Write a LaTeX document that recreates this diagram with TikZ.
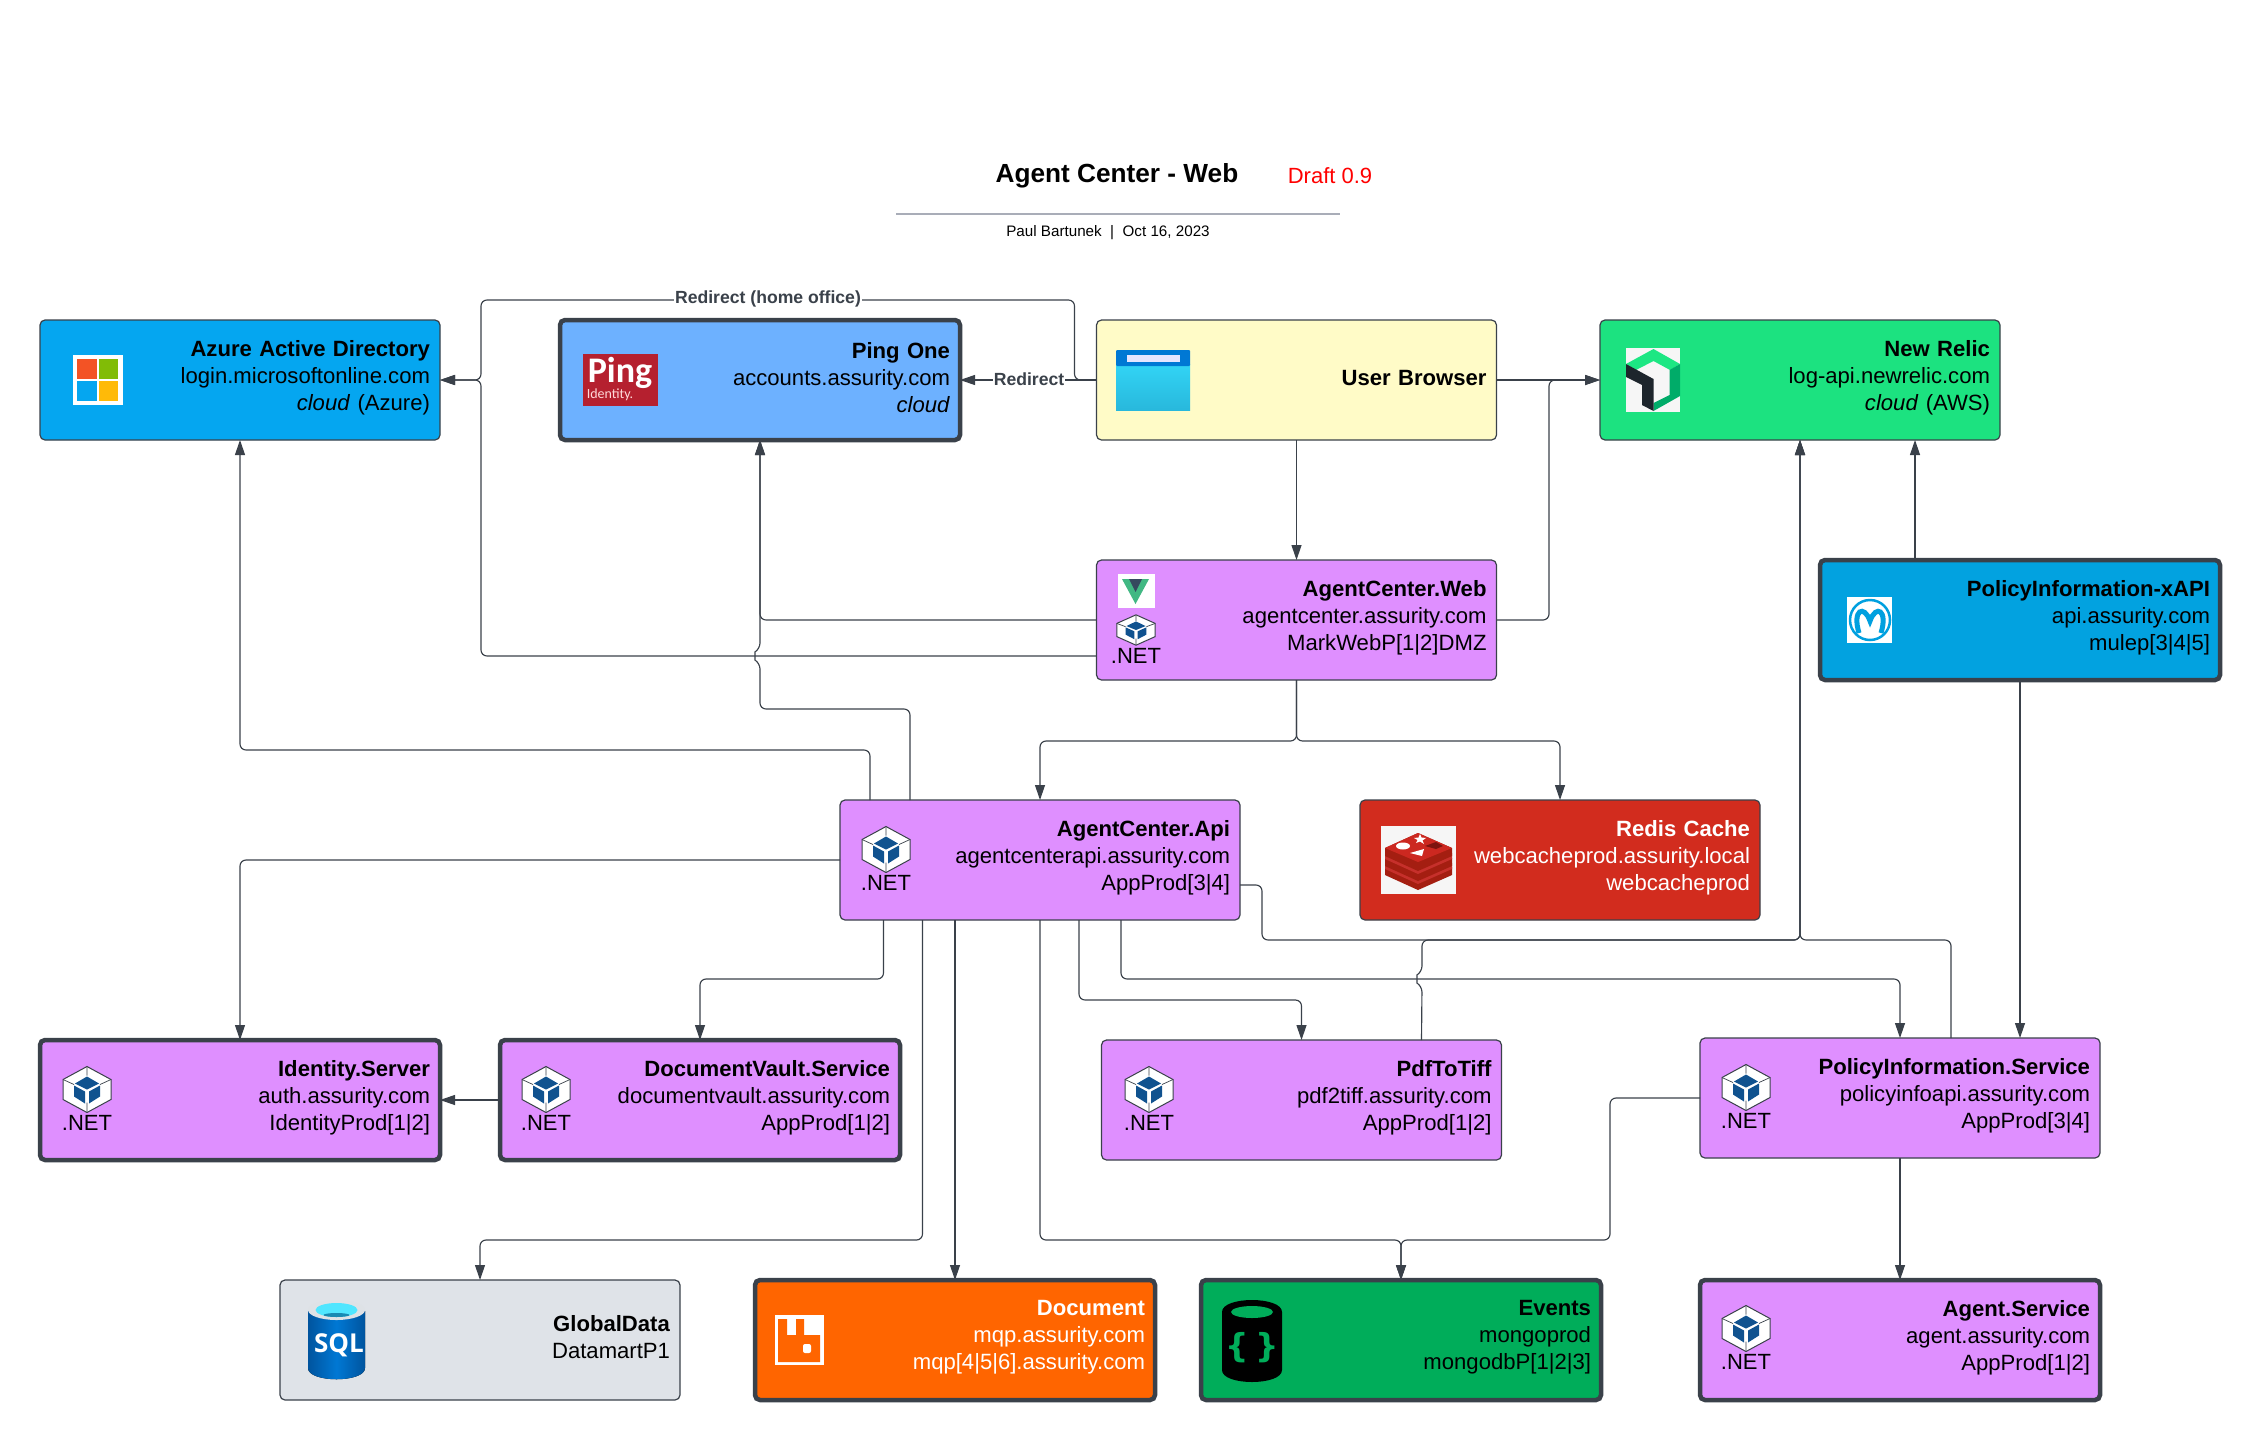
\documentclass[tikz,border=0pt]{standalone}
\usepackage{fontspec}
\setmainfont{Liberation Sans}
\newfontfamily\logofont{Open Sans}
\newfontfamily\pingfont{Carlito}
\newfontfamily\bracefont{DejaVu Sans}
\usetikzlibrary{arrows.meta}
\definecolor{linegrey}{HTML}{3A414A}
\definecolor{rulegrey}{HTML}{A9ADB8}
\definecolor{purplebox}{HTML}{DF8FFF}
\definecolor{cubeblue}{HTML}{10528F}
\tikzset{
  box/.style={draw=linegrey, line width=1.2pt, rounded corners=5pt, outer sep=0pt, minimum width=400pt, minimum height=120pt, text width=380pt, inner xsep=10pt, align=right, font=\fontsize{22.1}{27}\selectfont, execute at end node={\par\vspace{5pt}}},
  heavybox/.style={box, line width=4.5pt},
  flow/.style={->, >={Triangle[length=15pt,width=10pt]}, draw=linegrey, line width=1.15pt, rounded corners=6pt},
  linklabel/.style={fill=white, inner sep=1pt, text=linegrey, font=\fontsize{17.6}{20}\selectfont\bfseries},
  netlabel/.style={inner sep=0pt, font=\fontsize{22}{27}\selectfont},
  netcube/.pic={
    \fill[white, draw=linegrey, line width=1pt] (0,-23) -- (24,-10) -- (24,10) -- (0,23) -- (-24,10) -- (-24,-10) -- cycle;
    \draw[linegrey, line width=.7pt] (0,-23) -- (0,-14) (24,-10) -- (13,-5) (-24,-10) -- (-13,-5) (0,23) -- (0,13);
    \fill[cubeblue] (0,-13) -- (12,-6) -- (0,0) -- (-12,-6) -- cycle;
    \fill[cubeblue] (-13,-4) -- (-2,2) -- (-2,14) -- (-13,7) -- cycle;
    \fill[cubeblue] (13,-4) -- (2,2) -- (2,14) -- (13,7) -- cycle;
  }
}
\begin{document}
\begin{tikzpicture}[x=1pt, y=-1pt]
\useasboundingbox (0,0) rectangle (2260,1441);

\node[inner sep=0pt, font=\fontsize{26.2}{30}\selectfont\bfseries] (title) at (1117,176) {Agent Center - Web};
\node[inner sep=0pt, text=red, font=\fontsize{22}{26}\selectfont] (draft) at (1330,176) {Draft 0.9};
\node[inner sep=0pt, font=\fontsize{15.2}{18}\selectfont] (byline) at (1108,232.5) {Paul Bartunek~~|~~Oct 16, 2023};
\coordinate (ruleleft) at (896,214);
\coordinate (ruleright) at (1340,214);
\draw[rulegrey, line width=2pt] (ruleleft) -- (ruleright);

\node[box, fill={rgb,255:red,5;green,166;blue,240}] (azure) at (240,380) {\textbf{Azure Active Directory}\\login.microsoftonline.com\\\textit{cloud} (Azure)};
\node[heavybox, fill={rgb,255:red,109;green,177;blue,255}] (ping) at (760,380) {\textbf{Ping One}\\accounts.assurity.com\\\textit{cloud}};
\node[box, fill={rgb,255:red,255;green,251;blue,199}] (browser) at (1296.5,380) {\textbf{User Browser}};
\node[box, fill={rgb,255:red,28;green,226;blue,128}] (nrelic) at (1800,380) {\textbf{New Relic}\\log-api.newrelic.com\\\textit{cloud} (AWS)};

\node[box, fill=purplebox] (web) at (1296.5,620) {\textbf{AgentCenter.Web}\\agentcenter.assurity.com\\MarkWebP[1|2]DMZ};
\node[heavybox, fill={rgb,255:red,2;green,162;blue,224}] (xapi) at (2020,620) {\textbf{PolicyInformation-xAPI}\\api.assurity.com\\mulep[3|4|5]};

\node[box, fill=purplebox] (api) at (1040,860) {\textbf{AgentCenter.Api}\\agentcenterapi.assurity.com\\AppProd[3|4]};
\node[box, fill={rgb,255:red,210;green,44;blue,30}, text=white] (redis) at (1560,860) {\textbf{Redis Cache}\\webcacheprod.assurity.local\\webcacheprod};

\node[heavybox, fill=purplebox] (identity) at (240,1100) {\textbf{Identity.Server}\\auth.assurity.com\\IdentityProd[1|2]};
\node[heavybox, fill=purplebox] (docvault) at (700,1100) {\textbf{DocumentVault.Service}\\documentvault.assurity.com\\AppProd[1|2]};
\node[box, fill=purplebox] (pdf) at (1301.5,1100) {\textbf{PdfToTiff}\\pdf2tiff.assurity.com\\AppProd[1|2]};
\node[box, fill=purplebox] (policy) at (1900,1098) {\textbf{PolicyInformation.Service}\\policyinfoapi.assurity.com\\AppProd[3|4]};

\node[box, fill={rgb,255:red,223;green,227;blue,232}] (global) at (480,1340) {\textbf{GlobalData}\\DatamartP1};
\node[heavybox, fill={rgb,255:red,255;green,101;blue,0}, text=white] (mqdoc) at (955,1340) {\textbf{Document}\\mqp.assurity.com\\mqp[4|5|6].assurity.com};
\node[heavybox, fill={rgb,255:red,0;green,173;blue,90}] (events) at (1401,1340) {\textbf{Events}\\mongoprod\\mongodbP[1|2|3]};
\node[heavybox, fill=purplebox] (agent) at (1900,1340) {\textbf{Agent.Service}\\agent.assurity.com\\AppProd[1|2]};

\draw[flow] (browser.west) -- ++(-22,0) -- ++(0,-80) -- (481,300) -- (481,380) -- (azure.east);
\draw[flow] ([yshift=-36pt]web.west) -- (481,656) -- (481,380) -- (azure.east);
\draw[flow] (browser.west) -- (ping.east);
\draw[flow] (browser.east) -- (nrelic.west);
\draw[flow] (web.east) -- (1549,620) -- (1549,380) -- (nrelic.west);
\draw[flow] (browser.south) -- (web.north);
\draw[flow] (web.west) -| (ping.south);
\draw[flow] ([xshift=-170pt]api.north) -- ++(0,-50) -| (azure.south);
\draw[flow] ([xshift=-130pt]api.north) -- (910,709) -- (760,709) -- (760,663) .. controls (755,660) and (755,652) .. (760,649) -- (ping.south);
\draw[flow] (web.south) -- ++(0,61) -| (api.north);
\draw[flow] (web.south) -- ++(0,61) -| (redis.north);
\draw[flow] (api.west) -| (identity.north);
\draw[flow] ([xshift=-156.5pt]api.south) -- ++(0,59) -| (docvault.north);
\draw[flow] (docvault.west) -- (identity.east);
\draw[flow] ([xshift=-117.5pt]api.south) -- (922.5,1240) -| (global.north);
\draw[flow] ([xshift=-85pt]api.south) -- (mqdoc.north);
\draw[flow] (api.south) -- (1040,1240) -| (events.north);
\draw[flow] (policy.west) -- (1610,1098) -- (1610,1240) -| (events.north);
\draw[flow] ([xshift=39pt]api.south) -- ++(0,80) -| (pdf.north);
\draw[flow] ([xshift=81pt]api.south) -- ++(0,59) -| (policy.north);
\draw[flow] ([yshift=-25pt]api.east) -- (1262,885) -- (1262,940) -| (nrelic.south);
\draw[flow] ([xshift=120pt]pdf.north) -- (1422,986) .. controls (1417,983) and (1417,975) .. (1422,972) -- (1422,940) -| (nrelic.south);
\draw[flow] ([xshift=51pt]policy.north) -- (1951,940) -| (nrelic.south);
\draw[flow] ([xshift=-105pt]xapi.north) -- ([xshift=115pt]nrelic.south);
\draw[flow] (xapi.south) -- ([xshift=120pt]policy.north);
\draw[flow] (policy.south) -- (agent.north);

\node[linklabel] (homeoffice) at (768,299) {Redirect (home office)};
\node[linklabel] (redirect) at (1029,379) {Redirect};

\fill[white] (73,355) rectangle (123,405);
\fill[fill={rgb,255:red,243;green,83;blue,37}] (77,359) rectangle (96.5,379);
\fill[fill={rgb,255:red,129;green,188;blue,6}] (98.5,359) rectangle (118,379);
\fill[fill={rgb,255:red,5;green,166;blue,240}] (77,381) rectangle (96.5,401);
\fill[fill={rgb,255:red,255;green,186;blue,8}] (98.5,381) rectangle (118,401);

\fill[fill={rgb,255:red,181;green,32;blue,47}] (583,354) rectangle (658,406);
\node[inner sep=0pt, text=white, font=\fontsize{36}{38}\selectfont\pingfont\bfseries] (pinglogo) at (620,373) {Ping};
\node[inner sep=0pt, text=white!85!red, font=\fontsize{14}{16}\selectfont\pingfont] (pingsub) at (610,395) {Identity.};

\fill[top color={rgb,255:red,50;green,212;blue,245}, bottom color={rgb,255:red,40;green,184;blue,220}] (1116,364) rectangle (1190,410);
\fill[fill={rgb,255:red,0;green,120;blue,212}, rounded corners=1pt] (1116,350) rectangle (1190,366);
\fill[white!90!blue] (1127,355) rectangle (1180,362);

\fill[fill={rgb,255:red,246;green,246;blue,246}] (1626,348) rectangle (1680,412);
\fill[fill={rgb,255:red,28;green,231;blue,131}] (1653.5,349) -- (1680,364) -- (1670,370) -- (1653.5,361) -- (1636,370) -- (1626,364) -- cycle;
\fill[fill={rgb,255:red,0;green,172;blue,105}] (1680,364) -- (1669.5,370) -- (1669.5,395) -- (1653.5,403) -- (1653.5,411) -- (1680,396) -- cycle;
\fill[fill={rgb,255:red,29;green,37;blue,44}] (1626,364) -- (1653.5,379) -- (1653.5,411) -- (1642,405) -- (1642,385) -- (1626,377) -- cycle;

\fill[white] (1118,574) rectangle (1155,608);
\fill[fill={rgb,255:red,65;green,184;blue,131}] (1122,579) -- (1149,579) -- (1135.5,604) -- cycle;
\fill[fill={rgb,255:red,53;green,73;blue,94}] (1129,579) -- (1142,579) -- (1135.5,592) -- cycle;
\pic[xscale=.8, yscale=.66] at (1136,630) {netcube};
\node[netlabel] (webnet) at (1136,656) {.NET};

\fill[white] (1847,597) rectangle (1892,643);
\draw[fill=none, draw={rgb,255:red,0;green,160;blue,223}, line width=2.5pt] (1870,620) circle (20pt);
\draw[draw={rgb,255:red,0;green,160;blue,223}, line width=5pt] (1859,633) .. controls (1852,610) and (1864,604) .. (1870,621) .. controls (1876,604) and (1888,610) .. (1881,633);

\pic at (886,849.5) {netcube};
\node[netlabel] (apinet) at (886,883) {.NET};

\fill[fill={rgb,255:red,246;green,246;blue,246}] (1381,826) rectangle (1456,894);
\fill[fill={rgb,255:red,164;green,30;blue,17}] (1385,867) -- (1418,852) -- (1452,867) -- (1452,875) -- (1418,890) -- (1385,875) -- cycle;
\fill[fill={rgb,255:red,198;green,48;blue,43}] (1385,863) -- (1418,877) -- (1452,863) -- (1452,869) -- (1418,884) -- (1385,869) -- cycle;
\fill[fill={rgb,255:red,164;green,30;blue,17}] (1385,858) -- (1418,843) -- (1452,858) -- (1452,866) -- (1418,881) -- (1385,866) -- cycle;
\fill[fill={rgb,255:red,198;green,48;blue,43}] (1385,853) -- (1418,867) -- (1452,853) -- (1452,859) -- (1418,874) -- (1385,859) -- cycle;
\fill[fill={rgb,255:red,164;green,30;blue,17}] (1385,848) -- (1418,833) -- (1452,848) -- (1452,856) -- (1418,871) -- (1385,856) -- cycle;
\fill[fill={rgb,255:red,204;green,40;blue,32}] (1385,848) -- (1418,833) -- (1452,848) -- (1418,862) -- cycle;
\fill[white] (1403,846) ellipse (7pt and 3.5pt);
\fill[white] (1420,834) -- (1421.5,837.5) -- (1426,838) -- (1422.5,840.5) -- (1424,844) -- (1420,841.5) -- (1416,843) -- (1417.5,840) -- (1414,838) -- (1418.5,837.5) -- cycle;
\fill[white] (1410,853) -- (1424,849) -- (1422,856) -- cycle;
\fill[fill={rgb,255:red,125;green,20;blue,15}] (1425,846) -- (1436,842) -- (1443,846) -- (1436,849) -- cycle;

\pic at (87,1089.5) {netcube};
\node[netlabel] (identitynet) at (87,1123) {.NET};
\pic at (546,1089.5) {netcube};
\node[netlabel] (docvaultnet) at (546,1123) {.NET};
\pic at (1149,1089.5) {netcube};
\node[netlabel] (pdfnet) at (1149,1123) {.NET};
\pic at (1746,1087.5) {netcube};
\node[netlabel] (policynet) at (1746,1121) {.NET};
\pic at (1746,1328.5) {netcube};
\node[netlabel] (agentnet) at (1746,1362) {.NET};

\fill[left color={rgb,255:red,0;green,84;blue,158}, right color={rgb,255:red,0;green,84;blue,158}, middle color={rgb,255:red,0;green,120;blue,212}] (308,1311) -- (365,1311) -- (365,1368) .. controls (365,1383) and (308,1383) .. (308,1368) -- cycle;
\fill[fill={rgb,255:red,222;green,226;blue,230}] (336.5,1310) ellipse (28.5pt and 10pt);
\fill[fill={rgb,255:red,80;green,230;blue,255}] (336.5,1310) ellipse (21pt and 7pt);
\fill[fill={rgb,255:red,25;green,138;blue,179}] (336.5,1315) ellipse (13pt and 2pt);
\node[inner sep=0pt, text=white, font=\fontsize{26}{30}\selectfont\logofont\bfseries] (sqllogo) at (339,1345) {SQL};

\fill[white] (775,1315) rectangle (824,1365);
\fill[fill={rgb,255:red,255;green,101;blue,0}] (778,1319) -- (787,1319) -- (787,1335) -- (796,1335) -- (796,1319) -- (804,1319) -- (804,1335) -- (820,1335) -- (820,1362) -- (778,1362) -- cycle;
\fill[white, rounded corners=2pt] (803,1344) rectangle (811,1353);

\fill[black] (1222,1312) .. controls (1222,1296) and (1282,1296) .. (1282,1312) -- (1282,1370) .. controls (1282,1386) and (1222,1386) .. (1222,1370) -- cycle;
\fill[fill={rgb,255:red,0;green,173;blue,90}] (1252,1312) ellipse (21pt and 6pt);
\node[inner sep=0pt, text={rgb,255:red,0;green,173;blue,90}, font=\fontsize{33}{36}\selectfont\bracefont\bfseries] (mongoleft) at (1237.5,1348) {\{};
\node[inner sep=0pt, text={rgb,255:red,0;green,173;blue,90}, font=\fontsize{33}{36}\selectfont\bracefont\bfseries] (mongoright) at (1267,1348) {\}};
\end{tikzpicture}
\end{document}
